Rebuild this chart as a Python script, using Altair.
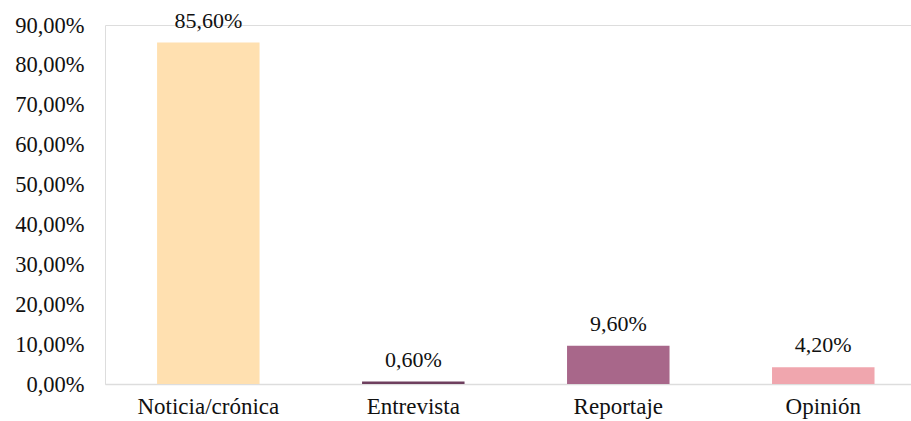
import altair as alt
import pandas as pd

categories = ["Noticia/crónica", "Entrevista", "Reportaje", "Opinión"]
values = [85.6, 0.6, 9.6, 4.2]
labels = ["85,60%", "0,60%", "9,60%", "4,20%"]
colors = ["#FFE0B0", "#6E3F5E", "#A8678A", "#F0A6AE"]
y_ticks = [0, 10, 20, 30, 40, 50, 60, 70, 80, 90]

df = pd.DataFrame({"cat": categories, "val": values, "lab": labels})

FONT = "'Times New Roman', 'Liberation Serif', 'DejaVu Serif', serif"

x = alt.X("cat:N", sort=categories,
          scale=alt.Scale(paddingInner=0.5, paddingOuter=0.216, align=0.588),
          axis=alt.Axis(title=None, labelAngle=0, labelFont=FONT, labelFontSize=23,
                        labelColor="#111111", ticks=False, domainColor="#dddddd",
                        domainWidth=1.5, labelPadding=11))
y = alt.Y("val:Q", scale=alt.Scale(domain=[0, 90], nice=False),
          axis=alt.Axis(title=None, values=y_ticks, grid=False, domain=False, ticks=False,
                        labelExpr="replace(format(datum.value, '.2f'), '.', ',') + '%'",
                        labelFont=FONT, labelFontSize=22.5, labelColor="#111111",
                        labelPadding=21))

base = alt.Chart(df).encode(x=x, y=y)

bars = base.mark_bar().encode(
    color=alt.Color("cat:N", sort=categories,
                    scale=alt.Scale(domain=categories, range=colors), legend=None)
)
text = base.mark_text(baseline="alphabetic", dy=-15, font=FONT, fontSize=22,
                      color="#111111").encode(text="lab:N")

chart = (bars + text).properties(
    width=806, height=359,
    autosize=alt.AutoSizeParams(type="none"),
    padding={"left": 105, "top": 25, "right": 0, "bottom": 37},
).configure_view(stroke=None).configure(background="white")

chart.save("out.html", embed_options={"renderer": "svg", "actions": False})
